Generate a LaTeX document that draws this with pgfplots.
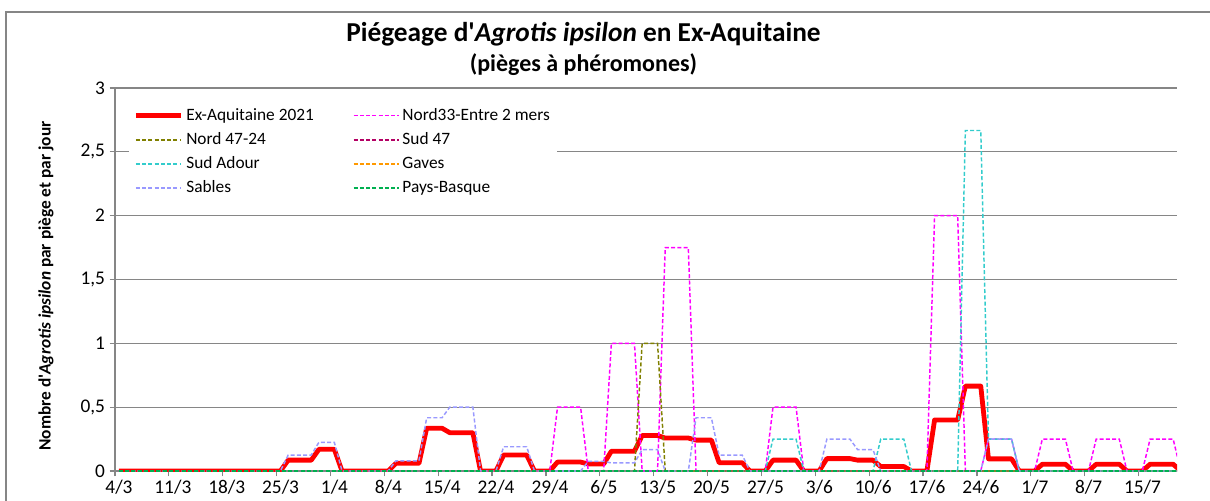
\documentclass[border=0pt]{standalone}
\usepackage{fontspec}
\setmainfont{Carlito}[Ligatures=TeXOff]
\usepackage{pgfplots}
\pgfplotsset{compat=1.18}

\definecolor{gridgray}{RGB}{134,134,134}
\definecolor{exaq}{RGB}{255,0,0}
\definecolor{entremers}{RGB}{255,0,255}
\definecolor{nordqs}{RGB}{128,128,0}
\definecolor{sudqs}{RGB}{180,0,100}
\definecolor{sudadour}{RGB}{51,204,204}
\definecolor{gaves}{RGB}{255,153,0}
\definecolor{sables}{RGB}{153,153,255}
\definecolor{paysb}{RGB}{0,176,80}

\tikzset{
  piege/.style={line width=1.1pt, dash pattern=on 3pt off 1.7pt},
}
\pgfplotsset{
  serie/.style={draw=#1, piege,
    legend image code/.code={\draw[draw=#1, line width=1.4pt, dash pattern=on 3pt off 1.7pt] (0pt,0pt) -- (34pt,0pt);}},
}

\begin{document}
\begin{tikzpicture}
% cadre
\draw[gridgray, line width=1pt] (4.5pt,-10pt) -- (4.5pt,366pt) -- (920pt,366pt);

\begin{axis}[
  at={(86.25pt,21.75pt)}, anchor=south west,
  scale only axis, width=796.5pt, height=287.25pt,
  xmin=-0.5, xmax=137.5, ymin=0, ymax=3,
  axis lines*=left,
  axis line style={draw=gridgray, line width=0.9pt},
  tick style={draw=gridgray, line width=0.9pt},
  tick align=outside, major tick length=4pt,
  ymajorgrids, grid style={draw=gridgray, line width=0.9pt},
  ytick={0,0.5,...,3},
  yticklabels={0,{0,5},1,{1,5},2,{2,5},3},
  xtick={-0.5,6.5,...,132.5},
  xticklabels={4/3,11/3,18/3,25/3,1/4,8/4,15/4,22/4,29/4,6/5,13/5,20/5,27/5,3/6,10/6,17/6,24/6,1/7,8/7,15/7},
  ticklabel style={font=\fontsize{14.5}{16}\selectfont},
  xticklabel style={xshift=3pt, yshift=0.5pt},
  legend columns=2,
  legend cell align=left,
  legend style={draw=none, fill=white, at={(axis description cs:0.0134,0.961)}, anchor=north west,
    font=\fontsize{13}{15}\selectfont, row sep=3.5pt,
    /tikz/every even column/.append style={column sep=27pt}},
  legend image code/.code={\draw[#1] (0pt,0pt) -- (34pt,0pt);},
]
% Ex-Aquitaine 2021
\addplot[draw=exaq, line width=3.6pt, line join=round] coordinates {
(0,0) (21,0) (22,0.085) (25,0.085) (26,0.17) (28,0.17) (29,0) (35,0) (36,0.06) (39,0.06)
(40,0.335) (42,0.335) (43,0.3) (46,0.3) (47,0) (49,0) (50,0.125) (53,0.125) (54,0) (56,0)
(57,0.07) (60,0.07) (61,0.055) (63,0.055) (64,0.155) (67,0.155) (68,0.278) (70,0.278)
(71,0.258) (74,0.258) (75,0.242) (77,0.242) (78,0.065) (81,0.065) (82,0) (84,0)
(85,0.085) (88,0.085) (89,0) (91,0) (92,0.097) (95,0.097) (96,0.085) (98,0.085)
(99,0.035) (102,0.035) (103,0) (105,0) (106,0.4) (109,0.4) (110,0.665) (112,0.665)
(113,0.095) (116,0.095) (117,0) (119,0) (120,0.053) (123,0.053) (124,0) (126,0)
(127,0.053) (130,0.053) (131,0) (133,0) (134,0.053) (137,0.053) (138,0)};
\addlegendentry{Ex-Aquitaine 2021}
% Nord33-Entre 2 mers
\addplot[serie=entremers] coordinates {
(0,0) (56,0) (57,0.5) (60,0.5) (61,0) (63,0) (64,1) (67,1) (68,0) (70,0) (71,1.75) (74,1.75)
(75,0) (84,0) (85,0.5) (88,0.5) (89,0) (105,0) (106,2) (109,2) (110,0) (112,0) (113,0.25)
(116,0.25) (117,0) (119,0) (120,0.25) (123,0.25) (124,0) (126,0) (127,0.25) (130,0.25)
(131,0) (133,0) (134,0.25) (137,0.25) (138,0)};
\addlegendentry{Nord33-Entre 2 mers}
% Nord 47-24
\addplot[serie=nordqs] coordinates {
(0,0) (67,0) (68,1) (70,1) (71,0) (138,0)};
\addlegendentry{Nord 47-24}
% Sud 47
\addplot[serie=sudqs] coordinates {(0,0) (138,0)};
\addlegendentry{Sud 47}
% Sud Adour
\addplot[serie=sudadour] coordinates {
(0,0) (84,0) (85,0.25) (88,0.25) (89,0) (98,0) (99,0.25) (102,0.25) (103,0) (109,0)
(110,2.667) (112,2.667) (113,0.25) (116,0.25) (117,0) (138,0)};
\addlegendentry{Sud Adour}
% Gaves
\addplot[serie=gaves] coordinates {(0,0) (138,0)};
\addlegendentry{Gaves}
% Sables
\addplot[serie=sables] coordinates {
(0,0) (21,0) (22,0.125) (25,0.125) (26,0.225) (28,0.225) (29,0) (35,0) (36,0.08) (39,0.08)
(40,0.417) (42,0.417) (43,0.5) (46,0.5) (47,0) (49,0) (50,0.19) (53,0.19) (54,0) (60,0)
(61,0.075) (63,0.075) (64,0.063) (67,0.063) (68,0.167) (70,0.167) (71,0) (74,0)
(75,0.417) (77,0.417) (78,0.125) (81,0.125) (82,0) (91,0) (92,0.25) (95,0.25) (96,0.167)
(98,0.167) (99,0) (112,0) (113,0.25) (116,0.25) (117,0) (138,0)};
\addlegendentry{Sables}
% Pays-Basque
\addplot[serie=paysb] coordinates {(0,0) (138,0)};
\addlegendentry{Pays-Basque}
\end{axis}

\node[font=\fontsize{20.5}{24}\selectfont\bfseries] at (437.6pt,349.5pt)
  {Piégeage d'\textit{Agrotis ipsilon} en Ex-Aquitaine};
\node[font=\fontsize{18}{21}\selectfont\bfseries] at (437.6pt,326.25pt)
  {(pièges à phéromones)};
\node[rotate=90, font=\fontsize{13}{15}\selectfont\bfseries] at (34.5pt,160.5pt)
  {Nombre d'\textit{Agrotis ipsilon} par piège et par jour};

\pgfresetboundingbox
\useasboundingbox (0,0) rectangle (907.5pt,375pt);
\end{tikzpicture}
\end{document}
